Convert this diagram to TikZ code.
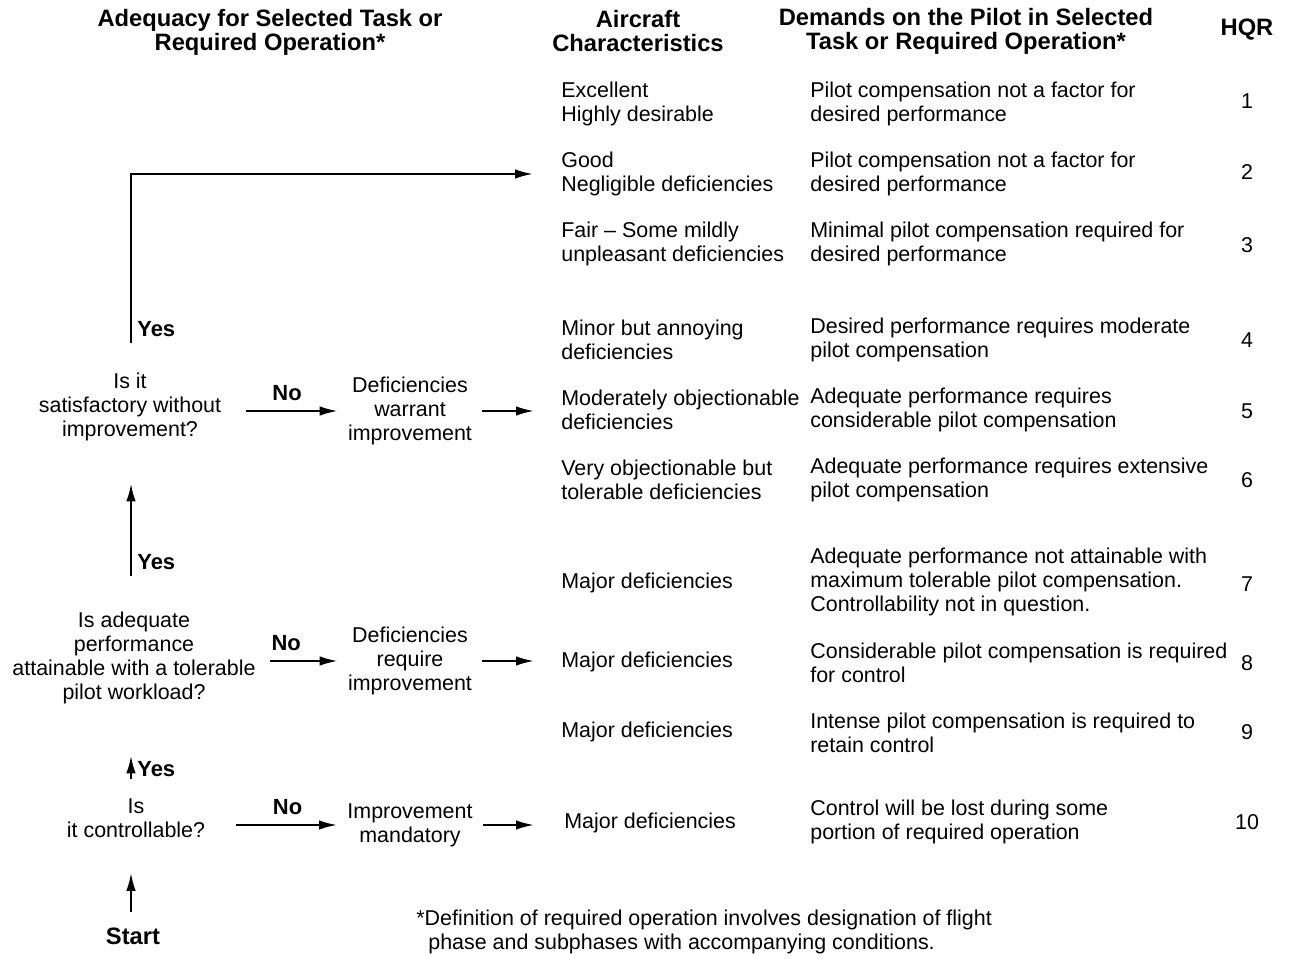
\documentclass[tikz,border=0pt]{standalone}
\usepackage{fontspec}
\setmainfont{Liberation Sans}
\usepackage{tikz}
\usetikzlibrary{arrows.meta,positioning}

\begin{document}
\begin{tikzpicture}[x=0.02cm, y=-0.02cm, font=\fontsize{12.2}{13.7}\selectfont]
    \tikzstyle{txt} = [inner sep=0pt, align=left, anchor=west]
    \tikzstyle{ctr} = [inner sep=0pt, align=center]
    \tikzstyle{head} = [ctr, font=\fontsize{13.5}{13.8}\selectfont\bfseries]
    \tikzstyle{flow} = [-{Latex[length=3.6mm,width=1.9mm]}, line width=1.2pt]
    \tikzstyle{yesno} = [font=\fontsize{12.5}{14}\selectfont\bfseries, inner sep=1pt]
    \useasboundingbox (0,0) rectangle (1289,959);
    \fill[white] (0,0) rectangle (1289,959);

    % column heads
    \node (hadeq) [head] at (270,32) {Adequacy for Selected Task or\\Required Operation*};
    \node (hchar) [head] at (638,31) {Aircraft\\Characteristics};
    \node (hdem) [head] at (966,31) {Demands on the Pilot in Selected\\Task or Required Operation*};
    \node (hhqr) [head] at (1247,30) {HQR};

    % aircraft characteristics
    \node (c1) [txt] at (561,104) {Excellent\\Highly desirable};
    \node (c2) [txt] at (561,174) {Good\\Negligible deficiencies};
    \node (c3) [txt] at (561,244) {Fair \textendash{} Some mildly\\unpleasant deficiencies};
    \node (c4) [txt] at (561,340) {Minor but annoying\\deficiencies};
    \node (c5) [txt] at (561,410) {Moderately objectionable\\deficiencies};
    \node (c6) [txt] at (561,480) {Very objectionable but\\tolerable deficiencies};
    \node (c7) [txt] at (561,583) {Major deficiencies};
    \node (c8) [txt] at (561,662) {Major deficiencies};
    \node (c9) [txt] at (561,732) {Major deficiencies};
    \node (c10) [txt] at (564,823) {Major deficiencies};

    % demands on the pilot
    \node (p1) [txt] at (810,104) {Pilot compensation not a factor for\\desired performance};
    \node (p2) [txt] at (810,174) {Pilot compensation not a factor for\\desired performance};
    \node (p3) [txt] at (810,244) {Minimal pilot compensation required for\\desired performance};
    \node (p4) [txt] at (810,340) {Desired performance requires moderate\\pilot compensation};
    \node (p5) [txt] at (810,410) {Adequate performance requires\\considerable pilot compensation};
    \node (p6) [txt] at (810,480) {Adequate performance requires extensive\\pilot compensation};
    \node (p7) [txt] at (810,582) {Adequate performance not attainable with\\maximum tolerable pilot compensation.\\Controllability not in question.};
    \node (p8) [txt] at (810,663) {Considerable pilot compensation is required\\for control};
    \node (p9) [txt] at (810,733) {Intense pilot compensation is required to\\retain control};
    \node (p10) [txt] at (810,822) {Control will be lost during some\\portion of required operation};

    % ratings
    \foreach \n/\y in {1/101, 2/172, 3/245, 4/340, 5/411, 6/480, 7/584, 8/663, 9/732, 10/822}
        \node (h\n) [ctr] at (1247,\y) {\n};

    % decision chain
    \coordinate (spine) at (131,0);
    \node (q1) [ctr] at (130,407) {Is it\\satisfactory without\\improvement?};
    \node (q2) [ctr] at (134,658) {Is adequate\\performance\\attainable with a tolerable\\pilot workload?};
    \node (q3) [ctr] at (136,818) {Is\\it controllable?};
    \node (start) [ctr, font=\fontsize{13.5}{14}\selectfont\bfseries] at (133,936) {Start};

    \node (d1) [ctr] at (410,411) {Deficiencies\\warrant\\improvement};
    \node (d2) [ctr] at (410,661) {Deficiencies\\require\\improvement};
    \node (d3) [ctr] at (410,825) {Improvement\\mandatory};

    \draw [flow, shorten <=0.3cm, shorten >=0.7cm] (start.north -| spine) -- (q3.south -| spine);
    \draw [flow, shorten <=0.38cm, shorten >=1.02cm] (q3.north -| spine)
        -- node[yesno, pos=0.31, anchor=west, xshift=2pt] {Yes} (q2.south -| spine);
    \draw [flow, shorten <=0.72cm, shorten >=0.84cm] (q2.north -| spine)
        -- node[yesno, pos=0.29, anchor=west, xshift=2pt] {Yes} (q1.south -| spine);
    \draw [flow, shorten <=0.6cm, shorten >=0.56cm] (q1.north -| spine)
        |- node[yesno, pos=0.11, anchor=west, xshift=2pt] {Yes} (c2.west);

    \draw [flow, shorten <=0.5cm, shorten >=0.2cm] (q1.east |- d1.west)
        -- node[yesno, above=4pt, pos=0.52] {No} (d1.west);
    \draw [flow, shorten <=0.28cm, shorten >=0.2cm] (q2.east |- d2.west)
        -- node[yesno, above=4pt, pos=0.33] {No} (d2.west);
    \draw [flow, shorten <=0.62cm, shorten >=0.2cm] (q3.east |- d3.west)
        -- node[yesno, above=4pt, pos=0.58] {No} (d3.west);

    \draw [flow, shorten <=0.2cm, shorten >=0.54cm] (d1.east) -- (c5.west |- d1.east);
    \draw [flow, shorten <=0.2cm, shorten >=0.54cm] (d2.east) -- (c8.west |- d2.east);
    \draw [flow, shorten <=0.2cm, shorten >=0.6cm] (d3.east) -- (c10.west |- d3.east);

    % footnote
    \node (note) [txt] at (416,932) {*Definition of required operation involves designation of flight\\\hspace{0.24cm}phase and subphases with accompanying conditions.};
\end{tikzpicture}
\end{document}
